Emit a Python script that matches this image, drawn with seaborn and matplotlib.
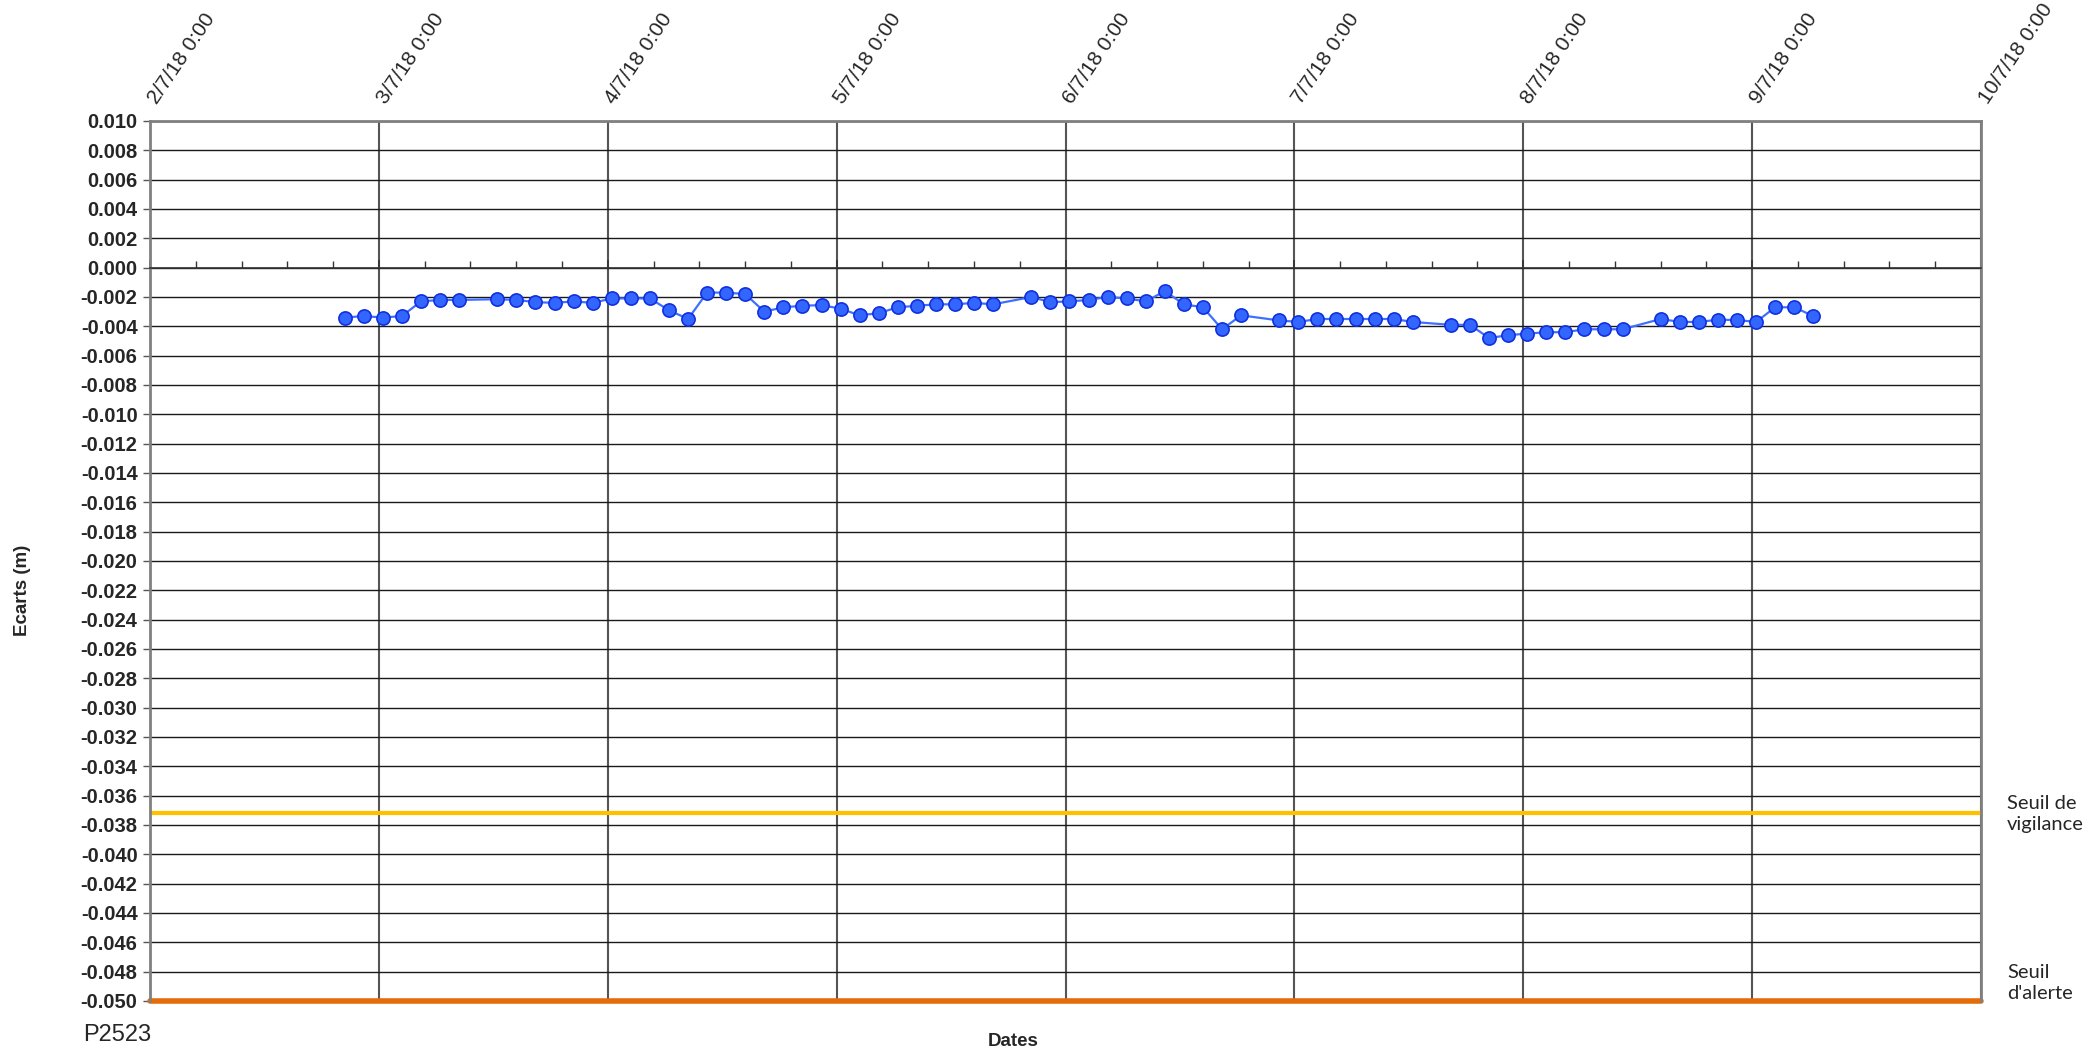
import pandas as pd
import numpy as np
import seaborn as sns
import matplotlib.pyplot as plt
import matplotlib.transforms as mtransforms
from matplotlib.ticker import MultipleLocator, FuncFormatter

# measurement times (every 2 h, with a few missing readings)
times = [
    '2018-07-02 20:25', '2018-07-02 22:25',
    '2018-07-03 00:25', '2018-07-03 02:25', '2018-07-03 04:25', '2018-07-03 06:25',
    '2018-07-03 08:25', '2018-07-03 12:25', '2018-07-03 14:25', '2018-07-03 16:25',
    '2018-07-03 18:25', '2018-07-03 20:25', '2018-07-03 22:25',
    '2018-07-04 00:25', '2018-07-04 02:25', '2018-07-04 04:25', '2018-07-04 06:25',
    '2018-07-04 08:25', '2018-07-04 10:25', '2018-07-04 12:25', '2018-07-04 14:25',
    '2018-07-04 16:25', '2018-07-04 18:25', '2018-07-04 20:25', '2018-07-04 22:25',
    '2018-07-05 00:25', '2018-07-05 02:25', '2018-07-05 04:25', '2018-07-05 06:25',
    '2018-07-05 08:25', '2018-07-05 10:25', '2018-07-05 12:25', '2018-07-05 14:25',
    '2018-07-05 16:25', '2018-07-05 20:25', '2018-07-05 22:25',
    '2018-07-06 00:25', '2018-07-06 02:25', '2018-07-06 04:25', '2018-07-06 06:25',
    '2018-07-06 08:25', '2018-07-06 10:25', '2018-07-06 12:25', '2018-07-06 14:25',
    '2018-07-06 16:25', '2018-07-06 18:25', '2018-07-06 22:25',
    '2018-07-07 00:25', '2018-07-07 02:25', '2018-07-07 04:25', '2018-07-07 06:25',
    '2018-07-07 08:25', '2018-07-07 10:25', '2018-07-07 12:25', '2018-07-07 16:25',
    '2018-07-07 18:25', '2018-07-07 20:25', '2018-07-07 22:25',
    '2018-07-08 00:25', '2018-07-08 02:25', '2018-07-08 04:25', '2018-07-08 06:25',
    '2018-07-08 08:25', '2018-07-08 10:25', '2018-07-08 14:25', '2018-07-08 16:25',
    '2018-07-08 18:25', '2018-07-08 20:25', '2018-07-08 22:25',
    '2018-07-09 00:25', '2018-07-09 02:25', '2018-07-09 04:25', '2018-07-09 06:25',
]

ecarts = [
    -0.0034, -0.0033,
    -0.0034, -0.0033, -0.0023, -0.0022, -0.0022, -0.00215, -0.0022, -0.00235,
    -0.0024, -0.0023, -0.0024,
    -0.0021, -0.0021, -0.0021, -0.0029, -0.0035, -0.0017, -0.0017, -0.0018,
    -0.0030, -0.0027, -0.0026, -0.00255,
    -0.0028, -0.00325, -0.0031, -0.0027, -0.0026, -0.0025, -0.0025, -0.0024,
    -0.0025, -0.0020, -0.00235,
    -0.0023, -0.0022, -0.0020, -0.0021, -0.0023, -0.0016, -0.0025, -0.0027,
    -0.0042, -0.00325, -0.0036,
    -0.0037, -0.0035, -0.0035, -0.0035, -0.0035, -0.0035, -0.0037, -0.0039,
    -0.0039, -0.0048, -0.0046,
    -0.0045, -0.0044, -0.0044, -0.0042, -0.0042, -0.0042, -0.0035, -0.0037,
    -0.0037, -0.00355, -0.00357,
    -0.0037, -0.0027, -0.0027, -0.0033,
]

day_ticks = ['2018-07-02', '2018-07-03', '2018-07-04', '2018-07-05', '2018-07-06',
             '2018-07-07', '2018-07-08', '2018-07-09', '2018-07-10']
day_labels = ['2/7/18 0:00', '3/7/18 0:00', '4/7/18 0:00', '5/7/18 0:00', '6/7/18 0:00',
              '7/7/18 0:00', '8/7/18 0:00', '9/7/18 0:00', '10/7/18 0:00']

seuil_vigilance = -0.0372
seuil_alerte = -0.050

df = pd.DataFrame({'date': pd.to_datetime(times), 'ecart': ecarts})

sns.set_theme(style="white")
plt.rcParams['font.family'] = ['Liberation Sans', 'DejaVu Sans']

fig = plt.figure(figsize=(20.86, 10.51), dpi=100)
ax = fig.add_axes([150 / 2086, 1 - 1001 / 1051, 1831 / 2086, 880 / 1051])

ax.set_xlim(pd.Timestamp(day_ticks[0]), pd.Timestamp(day_ticks[-1]))
ax.set_ylim(-0.050, 0.010)

# grid
ax.yaxis.set_major_locator(MultipleLocator(0.002))
ax.grid(axis='y', color='#1a1a1a', lw=1.0, zorder=0)
ax.set_xticks(pd.to_datetime(day_ticks))
ax.xaxis.set_minor_locator(MultipleLocator(0.2))
ax.grid(axis='x', which='major', color='#555555', lw=1.5, zorder=0)

# thresholds
ax.axhline(seuil_vigilance, color='#FFC000', lw=3, zorder=2)
ax.axhline(seuil_alerte, color='#E46C0A', lw=4, zorder=2, clip_on=False)

sns.lineplot(data=df, x='date', y='ecart', ax=ax, color='#3F6FFF', lw=1.6,
             marker='o', markersize=9.5, markerfacecolor='#3366FF',
             markeredgecolor='#1030E0', markeredgewidth=1.2, zorder=3)

ax.yaxis.set_major_formatter(FuncFormatter(lambda v, p: f"{round(v, 3):.3f}".replace('-0.000', '0.000')))
ax.tick_params(axis='y', which='major', left=True, direction='out', length=5, width=1,
               color='#555555', labelsize=14.5, pad=4)
for lab in ax.get_yticklabels():
    lab.set_fontweight('bold')

# x axis crosses at 0, date labels drawn above the plot
ax.spines['bottom'].set_position(('data', 0))
ax.spines['bottom'].set_color('#333333')
ax.spines['bottom'].set_linewidth(1.2)
for s in ['left', 'right', 'top']:
    ax.spines[s].set_color('#808080')
    ax.spines[s].set_linewidth(2)
ax.tick_params(axis='x', which='both', bottom=True, top=False, labelbottom=False,
               labeltop=False, direction='in', color='#333333')
ax.tick_params(axis='x', which='major', length=6, width=1.2)
ax.tick_params(axis='x', which='minor', length=5, width=1)

trans = mtransforms.blended_transform_factory(ax.transData, ax.transAxes)
offset = mtransforms.ScaledTranslation(10 / 100, 14 / 100, fig.dpi_scale_trans)
for d, lab in zip(pd.to_datetime(day_ticks), day_labels):
    ax.text(d, 1, lab, transform=trans + offset, rotation=56, ha='left', va='bottom',
            rotation_mode='anchor', fontsize=15, clip_on=False)

ax.set_xlabel('')
ax.set_ylabel('')
fig.text(23 / 2086, 1 - 590 / 1051, 'Ecarts (m)', rotation=90, ha='center', va='center',
         fontsize=13.5, fontweight='bold')
fig.text(1013 / 2086, 1 - 1042 / 1051, 'Dates', ha='center', va='center',
         fontsize=13.5, fontweight='bold')
fig.text(83 / 2086, 1 - 1035 / 1051, 'P2523', ha='left', va='center', fontsize=17)

fig.text(2007 / 2086, 1 - 814 / 1051, 'Seuil de\nvigilance', ha='left', va='center',
         fontsize=14.5, family=['Lato', 'DejaVu Sans'], linespacing=1.3)
fig.text(2007 / 2086, 1 - 983 / 1051, "Seuil\nd'alerte", ha='left', va='center',
         fontsize=14.5, family=['Lato', 'DejaVu Sans'], linespacing=1.3)

fig.savefig('out.png', dpi=100)
